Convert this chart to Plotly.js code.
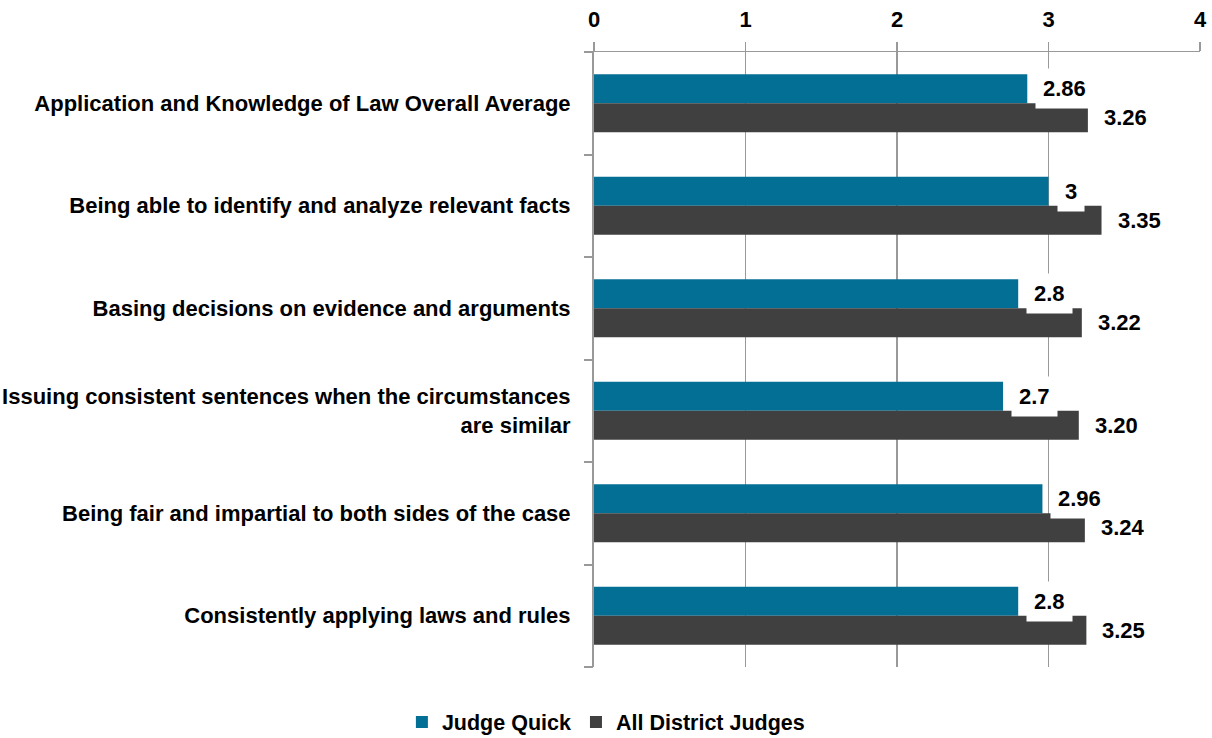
<!DOCTYPE html>
<html>
<head>
<meta charset="utf-8">
<script src="https://cdn.plot.ly/plotly-3.0.1.min.js"></script>
<style>html,body{margin:0;padding:0;background:#fff;}#chart{width:1212px;height:738px;}</style>
</head>
<body>
<div id="chart"></div>
<script>
const categories = [
  "Application and Knowledge of Law Overall Average",
  "Being able to identify and analyze relevant facts",
  "Basing decisions on evidence and arguments",
  "Issuing consistent sentences when the circumstances<br>are similar",
  "Being fair and impartial to both sides of the case",
  "Consistently applying laws and rules"
];
const judgeQuick = [2.86, 3, 2.8, 2.7, 2.96, 2.8];
const judgeQuickLabels = ["2.86", "3", "2.8", "2.7", "2.96", "2.8"];
const allDistrict = [3.26, 3.35, 3.22, 3.20, 3.24, 3.25];
const allDistrictLabels = ["3.26", "3.35", "3.22", "3.20", "3.24", "3.25"];
const xTicks = [0, 1, 2, 3, 4];

const FONT = "Liberation Sans, Arial, sans-serif";
const bargap = 0.434;
const off = (1 - bargap) / 4;

const idx = categories.map((c, i) => i);

const traces = [
  {
    type: "bar", orientation: "h", name: "Judge Quick",
    x: judgeQuick, y: idx,
    marker: {color: "#046f94"}, hoverinfo: "x"
  },
  {
    type: "bar", orientation: "h", name: "All District Judges",
    x: allDistrict, y: idx,
    marker: {color: "#404040"}, hoverinfo: "x"
  }
];

const annotations = [];
idx.forEach(i => {
  annotations.push({
    x: judgeQuick[i], y: i - off, xref: "x", yref: "y",
    text: judgeQuickLabels[i], showarrow: false,
    xanchor: "left", yanchor: "middle", xshift: 8,
    bgcolor: "#ffffff", borderpad: 7,
    font: {family: FONT, size: 22, color: "#000", weight: "bold"}
  });
  annotations.push({
    x: allDistrict[i], y: i + off, xref: "x", yref: "y",
    text: allDistrictLabels[i], showarrow: false,
    xanchor: "left", yanchor: "middle", xshift: 8,
    bgcolor: "#ffffff", borderpad: 7,
    font: {family: FONT, size: 22, color: "#000", weight: "bold"}
  });
});

const layout = {
  width: 1212, height: 738,
  margin: {l: 594, r: 12, t: 52, b: 71, pad: 0, autoexpand: false},
  paper_bgcolor: "#fff", plot_bgcolor: "#fff",
  barmode: "group", bargap: bargap, bargroupgap: 0,
  font: {family: FONT, color: "#000"},
  xaxis: {
    side: "top", range: [0, 4], tickvals: xTicks, ticktext: xTicks.map(String),
    showgrid: true, gridcolor: "#999", gridwidth: 1.5,
    showline: true, linecolor: "#999", linewidth: 1.5,
    ticks: "outside", ticklen: 9, tickcolor: "#999", tickwidth: 1.5,
    zeroline: false, fixedrange: true, automargin: false,
    ticklabelstandoff: 6,
    tickfont: {family: FONT, size: 22, color: "#000", weight: "bold"}
  },
  yaxis: {
    type: "linear", autorange: false, range: [5.5, -0.5],
    tickvals: idx, ticktext: categories,
    showgrid: false, zeroline: false,
    showline: true, linecolor: "#999", linewidth: 2,
    ticks: "", fixedrange: true, automargin: false,
    ticklabelstandoff: 17,
    tickfont: {family: FONT, size: 22, color: "#000", weight: "bold"}
  },
  yaxis2: {
    overlaying: "y", matches: "y", range: [5.5, -0.5], autorange: false,
    tickvals: [-0.5, 0.5, 1.5, 2.5, 3.5, 4.5, 5.5], ticktext: ["", "", "", "", "", "", ""],
    ticks: "outside", ticklen: 9, tickcolor: "#999", tickwidth: 2,
    showgrid: false, zeroline: false, showline: false, side: "left", automargin: false
  },
  showlegend: true,
  legend: {
    orientation: "h", x: -0.317, xanchor: "left", y: -0.0894, yanchor: "middle",
    font: {family: FONT, size: 21.5, color: "#000", weight: "bold"},
    itemclick: false, itemdoubleclick: false
  },
  annotations: annotations
};

// helper trace so the category-boundary ticks on yaxis2 are drawn
traces.push({type: "scatter", x: [null], y: [null], yaxis: "y2", showlegend: false, hoverinfo: "skip"});

Plotly.newPlot("chart", traces, layout, {displayModeBar: false, staticPlot: true});
</script>
</body>
</html>
